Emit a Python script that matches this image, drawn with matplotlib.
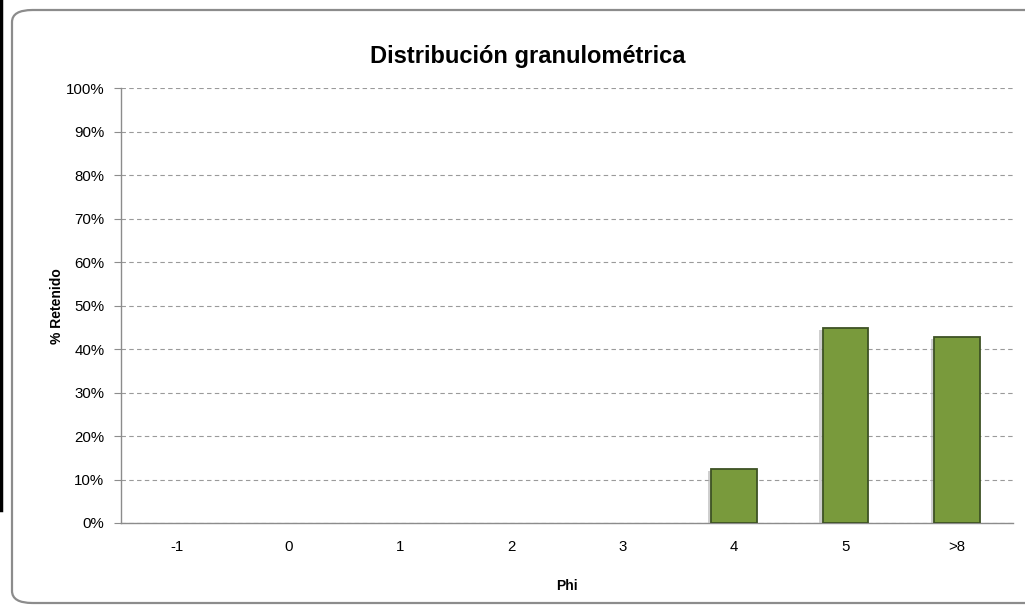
import matplotlib
matplotlib.use("Agg")
import matplotlib.pyplot as plt
import matplotlib.patheffects as pe
from matplotlib.patches import FancyBboxPatch
from matplotlib.lines import Line2D
from matplotlib.ticker import FuncFormatter, MultipleLocator

plt.rcParams['font.family'] = ['Liberation Sans', 'DejaVu Sans']

# Grain-size classes (phi) and percentage retained
phi_labels = ['-1', '0', '1', '2', '3', '4', '5', '>8']
retained = [0.0, 0.0, 0.0, 0.0, 0.0, 12.4, 44.8, 42.9]

title = 'Distribución granulométrica'
x_label = 'Phi'
y_label = '% Retenido'

fig = plt.figure(figsize=(10.25, 6.06), dpi=100)
ax = fig.add_axes([0.118, 0.137, 0.870, 0.717])

# Rounded chart frame
frame = FancyBboxPatch((12 / 1025, 3 / 606), 1.2, 593 / 606,
                       boxstyle='round,pad=0,rounding_size=0.02',
                       transform=fig.transFigure, fill=False,
                       edgecolor='#8c8c8c', linewidth=1.6, zorder=0)
fig.patches.append(frame)
fig.lines.append(Line2D([0.001, 0.001], [1.0, 1 - 510 / 606],
                        transform=fig.transFigure, color='black', linewidth=2.5))

positions = list(range(len(phi_labels)))
bars = ax.bar(positions, retained, width=0.41, color='#799a3c',
              edgecolor='#3e5224', linewidth=1.3, zorder=3)
for b, v in zip(bars, retained):
    if v > 0:
        b.set_path_effects([pe.SimplePatchShadow(offset=(-2.5, -1.5),
                                                 shadow_rgbFace='#b0b0b0', alpha=0.6),
                            pe.Normal()])
    else:
        b.set_visible(False)

ax.set_xlim(-0.5, len(phi_labels) - 0.5)
ax.set_ylim(0, 100)
ax.yaxis.set_major_locator(MultipleLocator(10))
ax.yaxis.set_major_formatter(FuncFormatter(lambda v, p: f'{int(round(v))}%'))
ax.set_xticks(positions)
ax.set_xticklabels(phi_labels)

ax.grid(axis='y', color='#9a9a9a', linestyle=(0, (4, 3)), linewidth=0.8, zorder=1)
ax.set_axisbelow(True)

for side in ('top', 'right'):
    ax.spines[side].set_visible(False)
for side in ('left', 'bottom'):
    ax.spines[side].set_color('#8c8c8c')
    ax.spines[side].set_linewidth(1.0)

ax.tick_params(axis='y', direction='out', length=5, color='#8c8c8c',
               labelsize=10.8, pad=7)
ax.tick_params(axis='x', length=0, labelsize=10.8, pad=12)

fig.text(528 / 1025, 1 - 56 / 606, title, ha='center', va='center',
         fontsize=17, fontweight='bold')
fig.text(57 / 1025, 1 - 306 / 606, y_label, ha='center', va='center',
         rotation=90, fontsize=10, fontweight='bold')
fig.text(567 / 1025, 1 - 586 / 606, x_label, ha='center', va='center',
         fontsize=10, fontweight='bold')

fig.savefig('out.png', dpi=100)
